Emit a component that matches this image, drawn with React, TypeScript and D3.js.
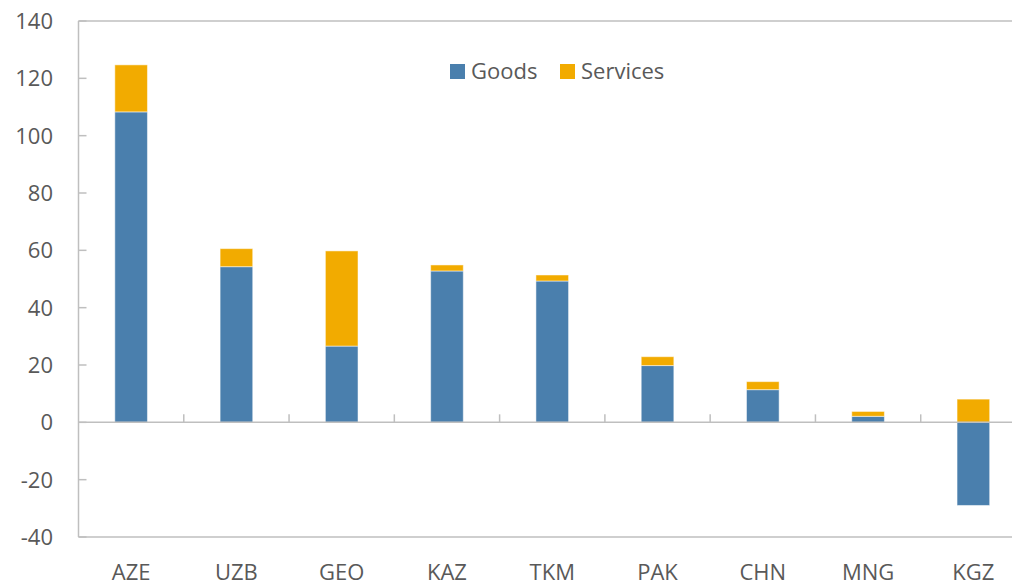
import React from "react";
import * as d3 from "d3";

const categories = ["AZE", "UZB", "GEO", "KAZ", "TKM", "PAK", "CHN", "MNG", "KGZ"];
const goods = [108.3, 54.3, 26.6, 52.8, 49.3, 19.8, 11.4, 2.1, -29.0];
const services = [16.4, 6.3, 33.2, 2.1, 2.1, 3.1, 2.8, 1.7, 8.1];
const yTicks = [-40, -20, 0, 20, 40, 60, 80, 100, 120, 140];

const seriesNames = ["Goods", "Services"];
const colors = ["#4a7fad", "#f2ab00"];

export default function App() {
  const width = 1012;
  const height = 584;
  const left = 78.5;
  const right = 1026;
  const top = 21;
  const bottom = 537;

  const x = d3.scaleBand<string>().domain(categories).range([left, right]).paddingInner(0).paddingOuter(0);
  const y = d3.scaleLinear().domain([-40, 140]).range([bottom, top]);
  const barW = x.bandwidth() * 0.31;

  const rows = categories.map((c, i) => ({ c, goods: goods[i], services: services[i] }));
  const stack = d3
    .stack<any>()
    .keys(["goods", "services"])
    .offset(d3.stackOffsetDiverging);
  const layers = stack(rows);

  const textColor = "#595959";
  const axisColor = "#bfbfbf";
  const font = "'Open Sans', 'Noto Sans', sans-serif";

  return (
    <svg width={width} height={height} style={{ position: "absolute", left: 0, top: 0 }} fontFamily={font}>
      <rect x={0} y={0} width={width} height={height} fill="#fff" />
      {/* frame */}
      <line x1={left} x2={right} y1={top} y2={top} stroke={axisColor} strokeWidth={1.5} />
      <line x1={left} x2={right} y1={bottom} y2={bottom} stroke={axisColor} strokeWidth={1.5} />
      <line x1={left} x2={left} y1={top} y2={bottom} stroke={axisColor} strokeWidth={1.5} />

      {/* y ticks */}
      {yTicks.map((t) => (
        <g key={t}>
          <line x1={left} x2={left + 8} y1={y(t)} y2={y(t)} stroke={axisColor} strokeWidth={1.5} />
          <text x={53} y={y(t)} dy="0.36em" textAnchor="end" fontSize={22} fill={textColor}>
            {t}
          </text>
        </g>
      ))}

      {/* bars */}
      {layers.map((layer, li) =>
        layer.map((d, i) => {
          const x0 = (x(categories[i]) as number) + (x.bandwidth() - barW) / 2;
          const y0 = y(Math.max(d[0], d[1]));
          const y1 = y(Math.min(d[0], d[1]));
          return (
            <rect
              key={`${li}-${i}`}
              x={x0}
              y={y0}
              width={barW}
              height={Math.max(0, y1 - y0)}
              fill={colors[li]}
              stroke="#ffffff"
              strokeOpacity={0.5}
              strokeWidth={1}
            />
          );
        })
      )}

      {/* zero line and category ticks */}
      <line x1={left} x2={right} y1={y(0)} y2={y(0)} stroke={axisColor} strokeWidth={1.5} />
      {categories.slice(1).map((c) => (
        <line
          key={c}
          x1={x(c) as number}
          x2={x(c) as number}
          y1={y(0)}
          y2={y(0) - 8}
          stroke={axisColor}
          strokeWidth={1.5}
        />
      ))}

      {/* x labels */}
      {categories.map((c) => (
        <text
          key={c}
          x={(x(c) as number) + x.bandwidth() / 2}
          y={580}
          textAnchor="middle"
          fontSize={22}
          fill={textColor}
        >
          {c}
        </text>
      ))}

      {/* legend */}
      {seriesNames.map((s, i) => {
        const lx = [450, 560][i];
        return (
          <g key={s}>
            <rect x={lx} y={64} width={15} height={15} fill={colors[i]} />
            <text x={lx + 21} y={79} fontSize={22} fill={textColor}>
              {s}
            </text>
          </g>
        );
      })}
    </svg>
  );
}
